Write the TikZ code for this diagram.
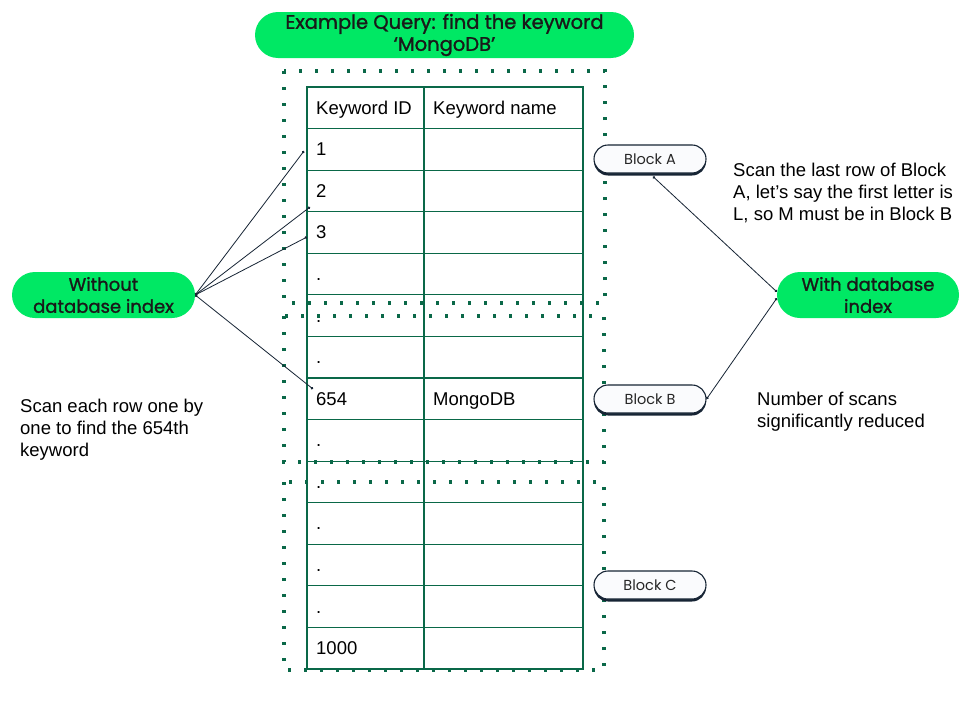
\documentclass[tikz,border=0pt]{standalone}
\usepackage{fontspec}
\setmainfont{Liberation Sans}
\newfontfamily\pillfont[FakeBold=1.3]{Poppins}
\newfontfamily\blockfont{Poppins}
\usetikzlibrary{arrows.meta,shadows}
\definecolor{mgreen}{RGB}{0,232,100}
\definecolor{dgreen}{RGB}{10,104,72}
\definecolor{navy}{RGB}{22,36,52}
\definecolor{pillwhite}{RGB}{250,251,253}
\tikzset{
  greenpill/.style={fill=mgreen, rounded corners=23pt, minimum height=46pt, align=center,
    inner sep=0pt, font=\pillfont\fontsize{18}{22}\selectfont, text=black!90},
  blockpill/.style={draw=navy, line width=1.1pt, fill=pillwhite, rounded corners=14pt,
    minimum width=112pt, minimum height=28pt, inner sep=0pt,
    font=\blockfont\fontsize{14.5}{16}\selectfont, text=black!85,
    drop shadow={shadow xshift=0pt, shadow yshift=-2.5pt, fill=navy, opacity=1}},
  dotbox/.style={draw=dgreen, line width=3.2pt, dash pattern=on 3.2pt off 12.8pt},
  tbl/.style={draw=dgreen, line width=1.2pt},
  cell/.style={anchor=base west, inner sep=0pt, font=\fontsize{18.5}{22}\selectfont, text=black},
  note/.style={anchor=north west, inner sep=0pt, align=left, font=\fontsize{18.5}{22}\selectfont, text=black},
  link/.style={draw=navy, line width=0.8pt, {Circle[length=2.6pt]}-{Circle[length=2.6pt]}}
}
\begin{document}
\begin{tikzpicture}[x=1pt,y=-1pt]
\useasboundingbox[fill=white] (0,0) rectangle (960,720);

% title
\node[greenpill, minimum width=379pt, font=\pillfont\fontsize{19.5}{22}\selectfont] (title) at (444.5,35) {Example Query: find the keyword\\‘MongoDB’};

% dotted blocks
\draw[dotbox] (284,71) rectangle (605,303);
\draw[dotbox] (284,316) rectangle (604,462);
\draw[dotbox] (284,482) rectangle (604,670);

% table
\draw[tbl] (307,87) rectangle (583,669);
\draw[tbl] (424,87) -- (424,669);
\foreach \i in {1,...,13} {
  \draw[tbl] (307,{87+\i*41.57}) -- (583,{87+\i*41.57});
}
\node[cell] (h1) at (316,{87+0.5*41.57+6.5}) {Keyword ID};
\node[cell] (h2) at (433,{87+0.5*41.57+6.5}) {Keyword name};
\foreach \i/\t in {1/1,2/2,3/3,4/.,5/.,6/.,7/654,8/.,9/.,10/.,11/.,12/.,13/1000} {
  \node[cell] (r\i) at (316,{87+(\i+0.5)*41.57+6.5}) {\t};
}
\node[cell] (m7) at (433,{87+7.5*41.57+6.5}) {MongoDB};

% side pills
\node[greenpill, minimum width=183pt] (without) at (103.5,295) {Without\\database index};
\node[greenpill, minimum width=182pt] (with) at (868,295) {With database\\index};

% block labels
\node[blockpill] (blockA) at (650,159) {Block A};
\node[blockpill] (blockB) at (650,399) {Block B};
\node[blockpill] (blockC) at (650,585) {Block C};

% endpoints on the table
\coordinate (e1) at (304,151);
\coordinate (e2) at (310,207);
\coordinate (e3) at (307,237);
\coordinate (e4) at (313,389);

\draw[link] (without.east) -- (e1);
\draw[link] (without.east) -- (e2);
\draw[link] (without.east) -- (e3);
\draw[link] (without.east) -- (e4);

\draw[link] ([xshift=3pt,yshift=-3pt]blockA.south) -- (with.178);
\draw[link] (blockB.east) -- (with.182);

% notes
\node[note] (n1) at (20,399) {Scan each row one by\\one to find the 654th\\keyword};
\node[note] (n2) at (733,163) {Scan the last row of Block\\A, let’s say the first letter is\\L, so M must be in Block B};
\node[note] (n3) at (757,392) {Number of scans\\significantly reduced};
\end{tikzpicture}
\end{document}
